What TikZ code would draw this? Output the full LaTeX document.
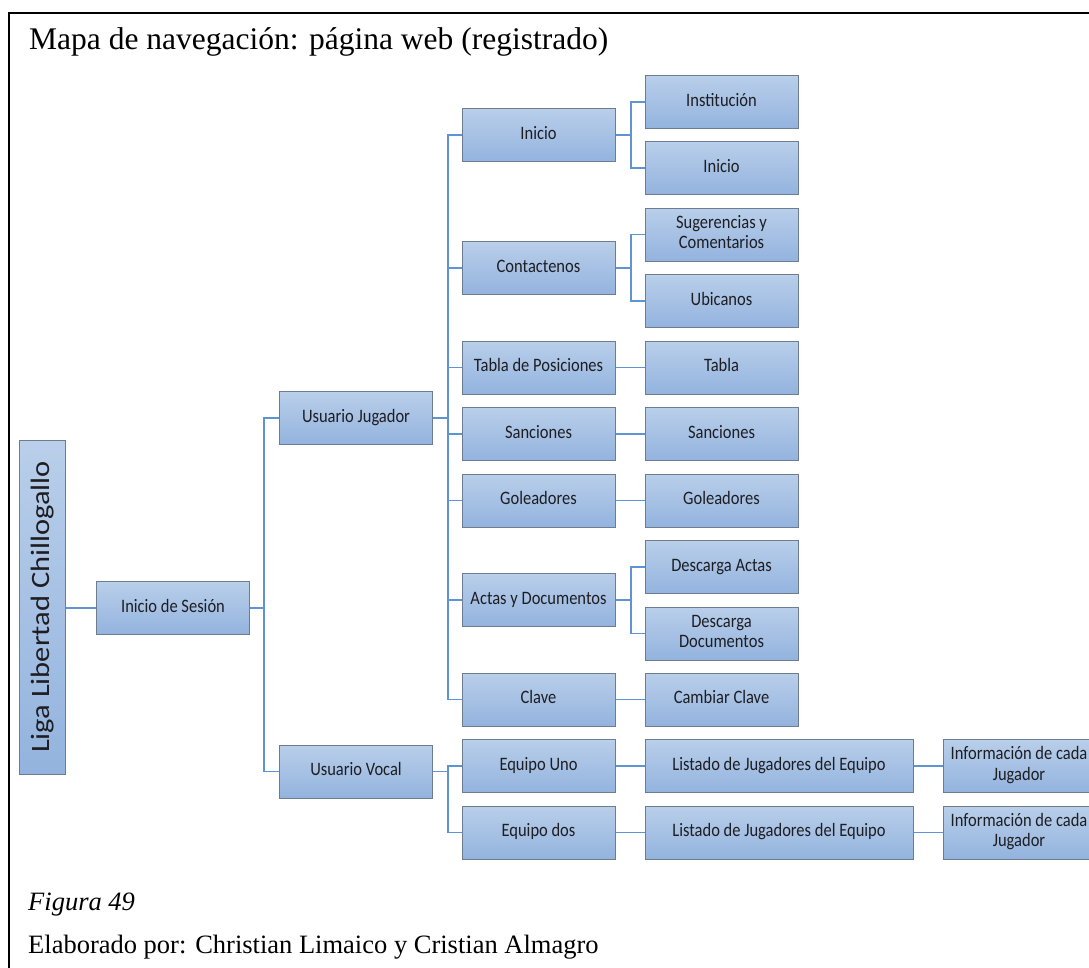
\documentclass[tikz,border=0pt]{standalone}
\usepackage{fontspec}
\usepackage{graphicx}
\setmainfont{Liberation Serif}
\newfontfamily\boxfont{Carlito}

\definecolor{boxtop}{RGB}{185,207,234}
\definecolor{boxbot}{RGB}{147,179,222}
\definecolor{boxline}{RGB}{110,124,146}
\definecolor{boxtext}{RGB}{30,30,34}
\definecolor{connblue}{RGB}{95,148,210}

% box labels are set slightly taller than wide
\newcommand{\bt}[1]{\scalebox{1}[1.15]{\begin{tabular}{@{}c@{}}#1\end{tabular}}}

\tikzset{
  box/.style={draw=boxline, line width=1pt, top color=boxtop, bottom color=boxbot,
    minimum width=153, minimum height=53, inner sep=0, text=boxtext,
    font=\boxfont\fontsize{16.5}{17.5}\selectfont},
  widebox/.style={box, minimum width=268},
  infobox/.style={box, minimum width=152},
  conn/.style={draw=connblue, line width=1.2pt},
}

\begin{document}
\begin{tikzpicture}[x=1pt, y=-1pt]
\useasboundingbox (0,0) rectangle (1089,967);

% page frame
\draw[black, line width=1.4pt] (1092,13) -- (9,13) -- (9,970);

% heading and captions
\node[anchor=base west, inner sep=0, font=\fontsize{31.5}{36}\selectfont] (title) at (29,49)
  {Mapa de navegación: página web (registrado)};
\node[anchor=base west, inner sep=0, font=\itshape\fontsize{26.5}{30}\selectfont] (fig) at (28,910)
  {Figura 49};
\node[anchor=base west, inner sep=0, font=\fontsize{26.5}{30}\selectfont] (autor) at (28,953)
  {Elaborado por: Christian Limaico y Cristian Almagro};

% root
\node[box, minimum width=46, minimum height=334] (liga) at (42.5,607) {};
\node[rotate=90, text=boxtext, font=\boxfont\fontsize{26.5}{30}\selectfont] (ligatxt) at (liga.center)
  {\scalebox{1.15}[1]{Liga Libertad Chillogallo}};

% level 1 and 2
\node[box] (ses) at (173,608) {\bt{Inicio de Sesión}};
\node[box] (uj) at (356,418) {\bt{Usuario Jugador}};
\node[box] (uv) at (356,771.5) {\bt{Usuario Vocal}};

% level 3
\node[box] (ini) at (538.5,135) {\bt{Inicio}};
\node[box] (con) at (538.5,268) {\bt{Contactenos}};
\node[box] (tab) at (538.5,367.5) {\bt{Tabla de Posiciones}};
\node[box] (san) at (538.5,434) {\bt{Sanciones}};
\node[box] (gol) at (538.5,500.5) {\bt{Goleadores}};
\node[box] (act) at (538.5,600) {\bt{Actas y Documentos}};
\node[box] (cla) at (538.5,699.5) {\bt{Clave}};
\node[box] (eq1) at (538.5,766) {\bt{Equipo Uno}};
\node[box] (eq2) at (538.5,832.5) {\bt{Equipo dos}};

% level 4
\node[box] (ins) at (721.5,102) {\bt{Institución}};
\node[box] (ini2) at (721.5,168) {\bt{Inicio}};
\node[box] (sug) at (721.5,234.5) {\bt{Sugerencias y\\Comentarios}};
\node[box] (ubi) at (721.5,301) {\bt{Ubicanos}};
\node[box] (tabla) at (721.5,367.5) {\bt{Tabla}};
\node[box] (san2) at (721.5,434) {\bt{Sanciones}};
\node[box] (gol2) at (721.5,500.5) {\bt{Goleadores}};
\node[box] (da) at (721.5,567) {\bt{Descarga Actas}};
\node[box] (dd) at (721.5,633.5) {\bt{Descarga\\Documentos}};
\node[box] (cc) at (721.5,699.5) {\bt{Cambiar Clave}};
\node[widebox] (lis1) at (779,766) {\bt{Listado de Jugadores del Equipo}};
\node[widebox] (lis2) at (779,832.5) {\bt{Listado de Jugadores del Equipo}};

% level 5
\node[infobox] (inf1) at (1019,766) {\bt{Información de cada\\Jugador}};
\node[infobox] (inf2) at (1019,832.5) {\bt{Información de cada\\Jugador}};

% spine positions of the elbow connectors
\coordinate (s1) at (264,0);
\coordinate (s2) at (448,0);
\coordinate (s3) at (631,0);

% connectors
\draw[conn] (liga.east |- ses.west) -- (ses.west);
\draw[conn] (ses.east) -- (s1 |- ses.east);
\foreach \c in {uj,uv} \draw[conn] (\c.west) -| (s1 |- ses.east);

\draw[conn] (uj.east) -- (s2 |- uj.east);
\foreach \c in {ini,con,tab,san,gol,act,cla} \draw[conn] (\c.west) -| (s2 |- uj.east);
\draw[conn] (uv.east) -- (s2 |- uv.east);
\foreach \c in {eq1,eq2} \draw[conn] (\c.west) -| (s2 |- uv.east);

\draw[conn] (ini.east) -- (s3 |- ini.east);
\foreach \c in {ins,ini2} \draw[conn] (\c.west) -| (s3 |- ini.east);
\draw[conn] (con.east) -- (s3 |- con.east);
\foreach \c in {sug,ubi} \draw[conn] (\c.west) -| (s3 |- con.east);
\draw[conn] (act.east) -- (s3 |- act.east);
\foreach \c in {da,dd} \draw[conn] (\c.west) -| (s3 |- act.east);

\draw[conn] (tab.east) -- (tabla.west);
\draw[conn] (san.east) -- (san2.west);
\draw[conn] (gol.east) -- (gol2.west);
\draw[conn] (cla.east) -- (cc.west);
\draw[conn] (eq1.east) -- (lis1.west);
\draw[conn] (eq2.east) -- (lis2.west);
\draw[conn] (lis1.east) -- (inf1.west);
\draw[conn] (lis2.east) -- (inf2.west);
\end{tikzpicture}
\end{document}
